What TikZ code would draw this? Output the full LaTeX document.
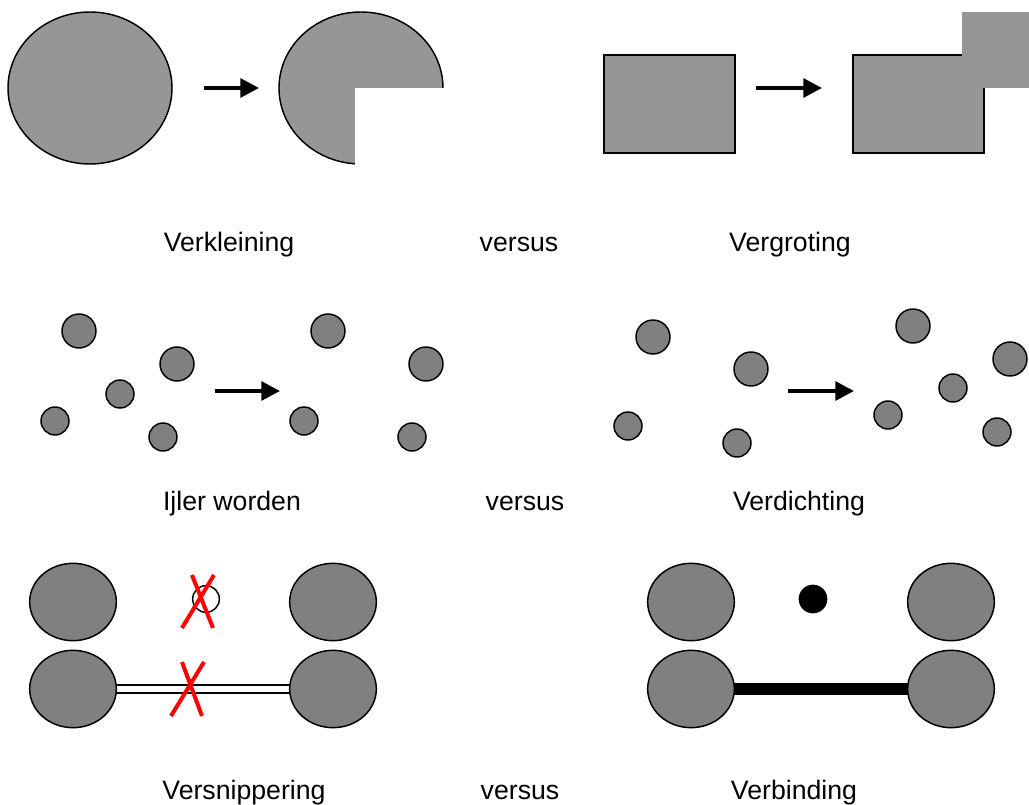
\documentclass[tikz,border=0pt]{standalone}
\usepackage{fontspec}
\setmainfont{Liberation Sans}
\usetikzlibrary{shapes.geometric, arrows.meta, backgrounds}
\definecolor{lightgrey}{RGB}{150,150,150}
\definecolor{midgrey}{RGB}{128,128,128}

\begin{document}
\begin{tikzpicture}[x=0.75pt, y=-0.75pt,
    blob/.style={ellipse, draw, line width=1.1pt, fill=lightgrey, inner sep=0pt},
    box/.style={rectangle, draw, line width=1.1pt, fill=lightgrey, inner sep=0pt,
        minimum width=98.25pt, minimum height=73.5pt},
    dot/.style={circle, draw, line width=1.1pt, fill=midgrey, inner sep=0pt},
    big/.style={minimum size=25.5pt},
    small/.style={minimum size=21pt},
    egg/.style={ellipse, draw, line width=1.1pt, fill=midgrey, inner sep=0pt,
        minimum width=65pt, minimum height=58pt},
    arr/.style={line width=3pt, -{Triangle[length=14pt, width=14pt]}},
    cross/.style={red, line width=3pt},
    label/.style={anchor=base, font=\fontsize{20}{24}\selectfont}]
    \useasboundingbox (0,0) rectangle (1029,805);
    % row 1
    \path (90,88) node[blob, minimum width=123pt, minimum height=114pt](full){}
        (361,88) node[blob, minimum width=123pt, minimum height=114pt](part){};
    \fill[white] (355,88) rectangle (447,168);
    \path (669.5,104) node[box](rect){}
        (918.5,104) node[box](grow){};
    \fill[lightgrey] (962,12) rectangle (1029,88);
    \coordinate (a1) at (204,88); \coordinate (b1) at (259,88);
    \coordinate (a2) at (756,88); \coordinate (b2) at (822,88);
    \draw[arr] (a1) -- (b1);
    \draw[arr] (a2) -- (b2);
    \path (229,252) node[label](t11){Verkleining}
        (519,252) node[label](t12){versus}
        (790,252) node[label](t13){Vergroting};
    % row 2
    \path (79,331) node[dot, big](l1){}
        (177,364) node[dot, big](l2){}
        (120,394) node[dot, small](l3){}
        (55,421) node[dot, small](l4){}
        (163,437) node[dot, small](l5){}
        (328,331) node[dot, big](r1){}
        (426,364) node[dot, big](r2){}
        (304,421) node[dot, small](r3){}
        (412,437) node[dot, small](r4){};
    \path (653,337) node[dot, big](m1){}
        (751,369) node[dot, big](m2){}
        (628,426) node[dot, small](m3){}
        (737,443) node[dot, small](m4){}
        (913,326) node[dot, big](n1){}
        (1010,359) node[dot, big](n2){}
        (953,388) node[dot, small](n3){}
        (888,415) node[dot, small](n4){}
        (997,432) node[dot, small](n5){};
    \coordinate (a3) at (215,391); \coordinate (b3) at (280,391);
    \coordinate (a4) at (788,391); \coordinate (b4) at (854,391);
    \draw[arr] (a3) -- (b3);
    \draw[arr] (a4) -- (b4);
    \path (232,511) node[label](t21){Ijler worden}
        (525,511) node[label](t22){versus}
        (799,511) node[label](t23){Verdichting};
    % row 3
    \path (73,602) node[egg](pA){}
        (333,602) node[egg](pB){}
        (73,689) node[egg](pC){}
        (333,689) node[egg](pD){}
        (206,599) node[circle, draw, line width=1.1pt, minimum size=20pt, inner sep=0pt](gone){};
    \begin{pgfonlayer}{background}
        \draw[line width=2pt, double=white, double distance=4pt] (pC.center) -- (pD.center);
    \end{pgfonlayer}
    \coordinate (x1) at (192,575); \coordinate (x2) at (213,628);
    \coordinate (x3) at (214,575); \coordinate (x4) at (182,628);
    \coordinate (x5) at (182,662); \coordinate (x6) at (202,716);
    \coordinate (x7) at (204,662); \coordinate (x8) at (171,716);
    \draw[cross] (x1) -- (x2) (x3) -- (x4) (x5) -- (x6) (x7) -- (x8);
    \path (691,602) node[egg](qA){}
        (951,602) node[egg](qB){}
        (691,689) node[egg](qC){}
        (951,689) node[egg](qD){}
        (813,599) node[circle, fill=black, minimum size=21.5pt, inner sep=0pt](kept){};
    \begin{pgfonlayer}{background}
        \draw[line width=8.3pt] (qC.center) -- (qD.center);
    \end{pgfonlayer}
    \path (244,799) node[label](t31){Versnippering}
        (520,799) node[label](t32){versus}
        (794,799) node[label](t33){Verbinding};
\end{tikzpicture}
\end{document}
